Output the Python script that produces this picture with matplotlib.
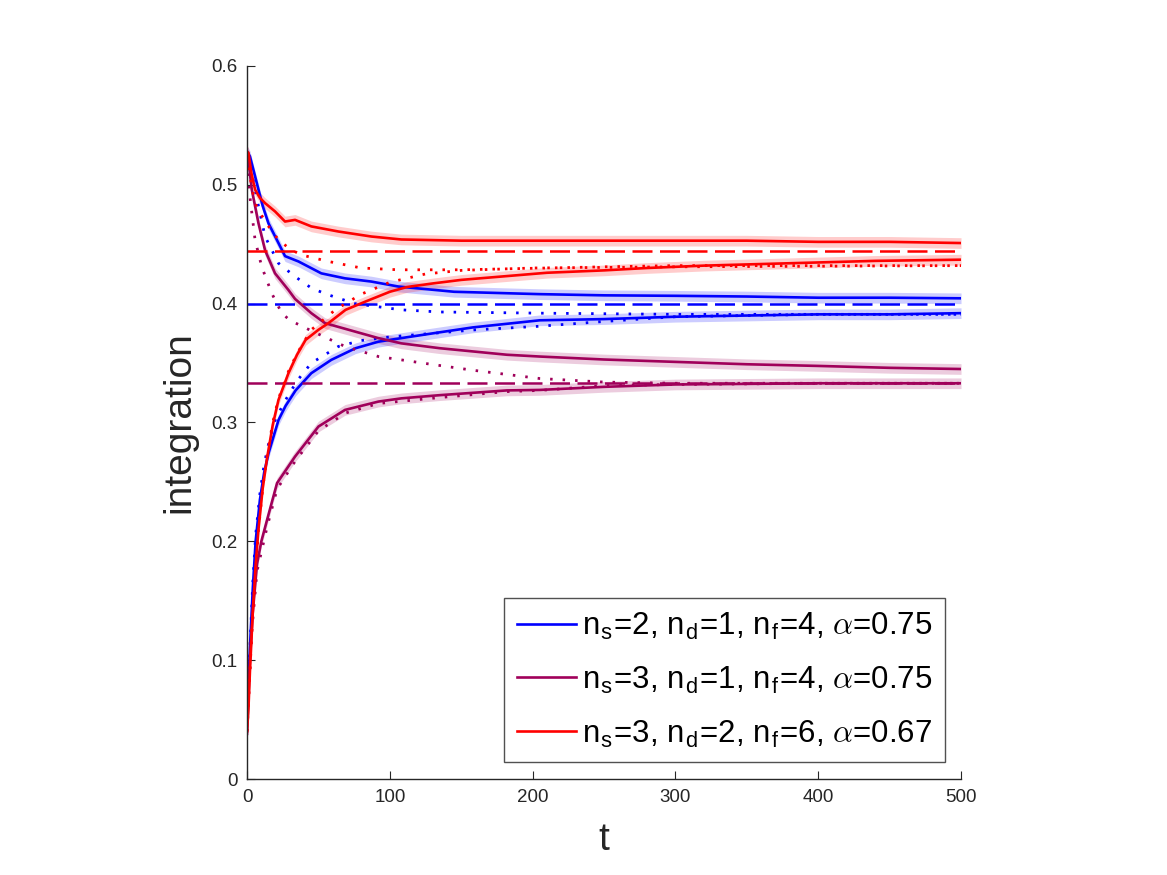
import numpy as np
import matplotlib
matplotlib.use("Agg")
from matplotlib import pyplot as plt

plt.rcParams['font.family'] = ['Liberation Sans', 'DejaVu Sans']
plt.rcParams['mathtext.fontset'] = 'cm'

# blue: ns=2, nd=1, nf=4
blue_dn_t = [0, 2, 5, 8, 11, 15, 22, 26.6, 36, 52, 68.6, 87, 106, 145, 205, 250, 300, 350, 400, 450, 500]
blue_dn = [0.528, 0.524, 0.51, 0.496, 0.482, 0.4676, 0.451, 0.44, 0.4355, 0.4255, 0.4213, 0.4186, 0.4144, 0.41, 0.408, 0.407, 0.4066, 0.406, 0.405, 0.405, 0.4045]
blue_dn_dot_t = [0, 3.3, 8, 12.6, 22, 33.6, 45.3, 57, 75.6, 108, 135, 205, 300, 500]
blue_dn_dot = [0.525, 0.51, 0.482, 0.4565, 0.434, 0.4228, 0.4129, 0.4074, 0.4, 0.3948, 0.393, 0.392, 0.391, 0.391]
blue_up_t = [0, 2, 4, 6, 9, 12, 15, 22, 27, 34, 45, 59, 76, 92, 108, 130, 158, 205, 250, 300, 350, 400, 450, 500]
blue_up = [0.05, 0.11, 0.16, 0.2, 0.235, 0.258, 0.274, 0.302, 0.314, 0.327, 0.3415, 0.3527, 0.3625, 0.368, 0.371, 0.375, 0.38, 0.386, 0.387, 0.389, 0.39, 0.391, 0.391, 0.392]
blue_up_dot_t = [0, 2, 4, 6, 9, 12, 16, 20, 27, 35, 45, 64, 80, 100, 130, 160, 205, 250, 300, 350, 400, 500]
blue_up_dot = [0.05, 0.11, 0.165, 0.205, 0.24, 0.265, 0.287, 0.303, 0.319, 0.335, 0.35, 0.364, 0.369, 0.372, 0.375, 0.378, 0.381, 0.385, 0.389, 0.39, 0.391, 0.391]
blue_limit = 0.4

# purple: ns=3, nd=1, nf=4
purp_dn_t = [0, 1, 3.3, 8, 12.6, 19.6, 28.9, 33.6, 45, 54.6, 75.6, 92, 108, 135, 182, 205, 250, 300, 350, 400, 450, 500]
purp_dn = [0.525, 0.52, 0.496, 0.4676, 0.445, 0.4255, 0.4116, 0.404, 0.392, 0.3836, 0.3765, 0.371, 0.3666, 0.3625, 0.357, 0.3555, 0.353, 0.351, 0.349, 0.3476, 0.346, 0.345]
purp_dn_dot_t = [0, 2, 5.6, 10.3, 17.3, 24.3, 30, 45.3, 68.6, 92, 108, 123, 158, 205, 250, 300, 500]
purp_dn_dot = [0.52, 0.49, 0.4537, 0.431, 0.4087, 0.392, 0.386, 0.377, 0.364, 0.3555, 0.3527, 0.35, 0.344, 0.337, 0.334, 0.333, 0.333]
purp_up_t = [0, 2, 4, 7, 10, 14, 21, 33.6, 50, 68.6, 92, 108, 135, 182, 205, 250, 300, 400, 500]
purp_up = [0.038, 0.1, 0.14, 0.181, 0.2, 0.218, 0.249, 0.2713, 0.2966, 0.3106, 0.3176, 0.3203, 0.323, 0.327, 0.3274, 0.33, 0.332, 0.333, 0.333]
purp_up_dot_t = [0, 3, 7, 14, 21, 34, 50, 69, 92, 135, 182, 205, 250, 300, 400, 500]
purp_up_dot = [0.04, 0.12, 0.175, 0.212, 0.244, 0.268, 0.293, 0.308, 0.316, 0.321, 0.326, 0.327, 0.331, 0.332, 0.333, 0.333]
purp_limit = 1 / 3

# red: ns=3, nd=2, nf=6
red_dn_t = [0, 1, 3, 5.6, 9, 12.6, 19.6, 26.6, 33.6, 45, 64, 87, 108, 150, 210, 250, 300, 350, 400, 450, 500]
red_dn = [0.528, 0.527, 0.51, 0.496, 0.489, 0.4846, 0.4776, 0.4691, 0.4705, 0.465, 0.4607, 0.4565, 0.454, 0.453, 0.453, 0.453, 0.453, 0.453, 0.452, 0.452, 0.451]
red_dn_dot_t = [0, 3, 5.6, 12.6, 22, 30, 38, 57, 80, 106, 150, 210, 250, 300, 500]
red_dn_dot = [0.525, 0.5, 0.4845, 0.469, 0.4537, 0.446, 0.441, 0.4355, 0.43, 0.4285, 0.4285, 0.43, 0.431, 0.432, 0.432]
red_up_t = [0, 1, 2, 4, 6, 8, 11, 14, 18, 22, 29, 35, 41, 50, 57, 69, 83, 100, 112, 130, 150, 180, 210, 250, 280, 320, 380, 440, 500]
red_up = [0.04, 0.06, 0.09, 0.14, 0.18, 0.21, 0.245, 0.27, 0.298, 0.319, 0.3415, 0.357, 0.3695, 0.378, 0.3836, 0.3948, 0.4018, 0.41, 0.414, 0.417, 0.42, 0.423, 0.426, 0.428, 0.43, 0.432, 0.434, 0.436, 0.437]
red_up_dot_t = [0, 2, 4, 8, 11, 14, 18, 22, 29, 35, 45, 62, 80, 100, 125, 150, 200, 300, 500]
red_up_dot = [0.04, 0.09, 0.14, 0.21, 0.245, 0.272, 0.3, 0.32, 0.343, 0.358, 0.378, 0.395, 0.408, 0.418, 0.425, 0.428, 0.43, 0.431, 0.432]
red_limit = 4 / 9

labels = [r'n$_\mathregular{s}$=2, n$_\mathregular{d}$=1, n$_\mathregular{f}$=4, $\alpha$=0.75',
          r'n$_\mathregular{s}$=3, n$_\mathregular{d}$=1, n$_\mathregular{f}$=4, $\alpha$=0.75',
          r'n$_\mathregular{s}$=3, n$_\mathregular{d}$=2, n$_\mathregular{f}$=6, $\alpha$=0.67']
colors = ['#0000ff', '#a0005a', '#ff0000']
band = 0.0045

groups = [
    (blue_dn_t, blue_dn, blue_dn_dot_t, blue_dn_dot, blue_up_t, blue_up, blue_up_dot_t, blue_up_dot, blue_limit),
    (purp_dn_t, purp_dn, purp_dn_dot_t, purp_dn_dot, purp_up_t, purp_up, purp_up_dot_t, purp_up_dot, purp_limit),
    (red_dn_t, red_dn, red_dn_dot_t, red_dn_dot, red_up_t, red_up, red_up_dot_t, red_up_dot, red_limit),
]

fig = plt.figure(figsize=(11.67, 8.75), dpi=100)
ax = fig.add_axes([0.2117, 0.1097, 0.6118, 0.8149])

handles = []
for g, c, lab in zip(groups, colors, labels):
    dn_t, dn, dnd_t, dnd, up_t, up, upd_t, upd, lim = g
    for tt, yy in [(dn_t, dn), (up_t, up)]:
        yy = np.array(yy)
        ax.fill_between(tt, yy - band, yy + band, color=c, alpha=0.2, lw=0)
    ax.plot(dnd_t, dnd, color=c, lw=2.0, ls=(0, (0.9, 3.6)))
    ax.plot(upd_t, upd, color=c, lw=2.0, ls=(0, (0.9, 3.6)))
    ax.plot([0, 500], [lim, lim], color=c, lw=1.8, ls=(0, (8, 3)))
    ax.plot(up_t, up, color=c, lw=1.9)
    h, = ax.plot(dn_t, dn, color=c, lw=1.9, label=lab)
    handles.append(h)

ax.set_xlim(0, 500)
ax.set_ylim(0, 0.6)
ax.set_xticks([0, 100, 200, 300, 400, 500])
ax.set_yticks([0, 0.1, 0.2, 0.3, 0.4, 0.5, 0.6])
ax.set_yticklabels(['0', '0.1', '0.2', '0.3', '0.4', '0.5', '0.6'])
for s in ['top', 'right']:
    ax.spines[s].set_visible(False)
for s in ['left', 'bottom']:
    ax.spines[s].set_color('#262626')
    ax.spines[s].set_linewidth(1.0)
ax.tick_params(direction='in', length=6, width=0.8, colors='#262626', labelsize=13.5, pad=7)
ax.set_xlabel('t', fontsize=28, color='#262626', labelpad=12)
ax.set_ylabel('integration', fontsize=28, color='#262626', labelpad=10)

leg = ax.legend(handles=handles, loc='lower right', fontsize=22.5, frameon=True,
                fancybox=False, edgecolor='#262626', handlelength=1.9,
                handletextpad=0.2, borderpad=0.4, labelspacing=0.72,
                borderaxespad=0, bbox_to_anchor=(0.9776, 0.0238))
leg.get_frame().set_linewidth(1.0)

fig.savefig('out.png', dpi=100)
